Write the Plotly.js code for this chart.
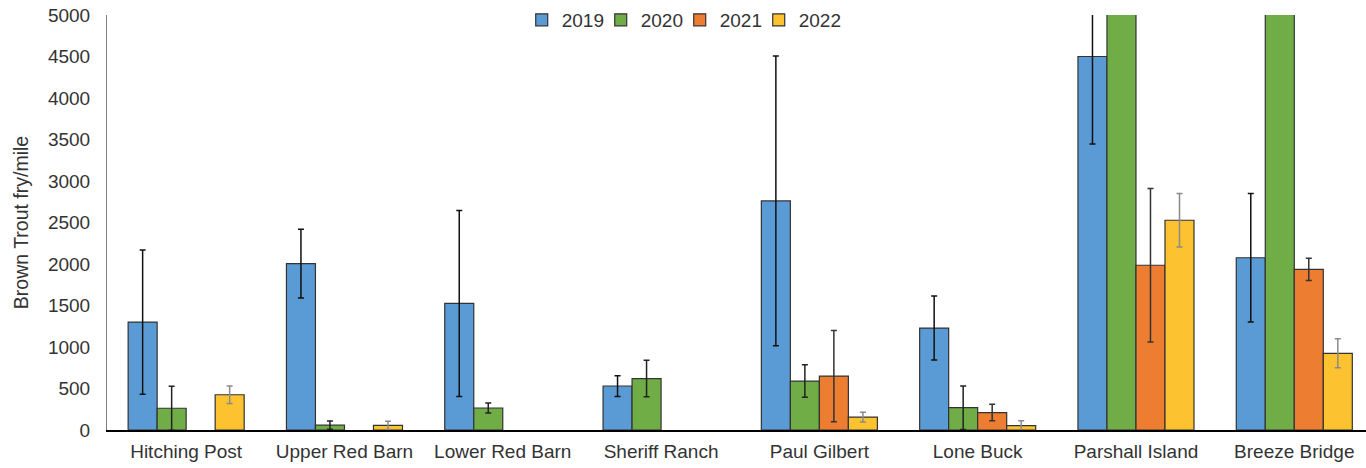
<!DOCTYPE html>
<html>
<head>
<meta charset="utf-8">
<script src="https://cdn.plot.ly/plotly-3.0.1.min.js"></script>
<style>html,body{margin:0;padding:0;background:#fff;overflow:hidden;}#chart{width:1366px;height:468px;}</style>
</head>
<body>
<div id="chart"></div>
<script>
const sites = ["Hitching Post", "Upper Red Barn", "Lower Red Barn", "Sheriff Ranch", "Paul Gilbert", "Lone Buck", "Parshall Island", "Breeze Bridge"];
const years = ["2019", "2020", "2021", "2022"];

const v2019 = [1300, 2005, 1525, 530, 2760, 1228, 4500, 2075];
const e2019 = [870, 415, 1120, 125, 1745, 385, 1055, 775];

const v2020 = [262, 58, 265, 620, 590, 269, 6200, 6000];
const e2020 = [265, 50, 60, 220, 195, 262, 0, 0];

const v2021 = [null, null, null, null, 650, 210, 1985, 1935];
const e2021 = [0, 0, 0, 0, 550, 100, 925, 135];

const v2022 = [425, 55, null, null, 155, 52, 2527, 924];
const e2022 = [105, 50, 0, 0, 60, 60, 323, 175];

const yTicks = [0, 500, 1000, 1500, 2000, 2500, 3000, 3500, 4000, 4500, 5000];

const values = [v2019, v2020, v2021, v2022];
const errors = [e2019, e2020, e2021, e2022];
const colors = ["#5B9BD5", "#70AD47", "#ED7D31", "#FDC230"];
const errColors = ["#111111", "#222222", "#333333", "#8a8a8a"];

const traces = years.map((y, i) => ({
  type: "bar",
  name: y,
  x: sites,
  y: values[i],
  marker: {color: colors[i], line: {color: "#333333", width: 1.2}},
  error_y: {type: "data", array: errors[i], visible: true, color: errColors[i], thickness: 1.5, width: 3},
  cliponaxis: true
}));

// invisible spacer legend entry so the last legend label is not clipped
traces.push({
  type: "scatter", mode: "markers", name: " ", x: [sites[0]], y: [null],
  showlegend: true, hoverinfo: "skip",
  marker: {color: "rgba(0,0,0,0)", size: 1, line: {width: 0}}
});

const layout = {
  width: 1366, height: 468,
  margin: {l: 107, r: 0, t: 15, b: 38},
  paper_bgcolor: "#ffffff", plot_bgcolor: "#ffffff",
  barmode: "group", bargap: 0.267, bargroupgap: 0,
  font: {family: "Liberation Sans, Arial, sans-serif", color: "#333333", size: 19},
  showlegend: true,
  legend: {orientation: "h", x: 0.3294, xanchor: "left", y: 0.988, yanchor: "middle",
           entrywidth: 34, entrywidthmode: "pixels", traceorder: "normal",
           bgcolor: "rgba(0,0,0,0)", font: {size: 19, color: "#333333"}, itemclick: false},
  xaxis: {
    showline: true, linecolor: "#000000", linewidth: 1.5, ticks: "", showgrid: false,
    range: [-0.5, 7.453], ticklabelstandoff: 4,
    tickfont: {size: 19, color: "#333333"}, automargin: false, fixedrange: true
  },
  yaxis: {
    range: [0, 5000], tickvals: yTicks, ticktext: yTicks.map(String), showgrid: false, zeroline: false,
    showline: true, linecolor: "#7f7f7f", linewidth: 1, ticks: "", ticklen: 0, ticklabelstandoff: 12,
    tickfont: {size: 19, color: "#333333"}, automargin: false, fixedrange: true,
    title: {text: "Brown Trout fry/mile", font: {size: 19.5, color: "#333333"}, standoff: 14}
  }
};

Plotly.newPlot("chart", traces, layout, {displayModeBar: false, staticPlot: true});
</script>
</body>
</html>
